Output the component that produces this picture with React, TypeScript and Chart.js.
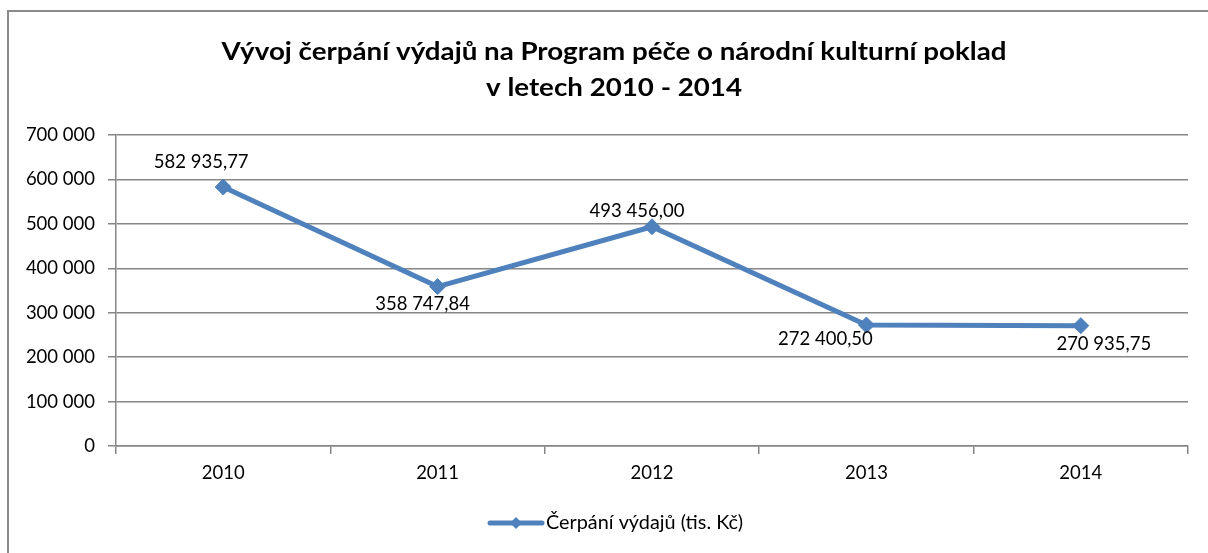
import React, { useEffect, useRef } from "react";
import { Chart, registerables } from "chart.js";

Chart.register(...registerables);

const title = ["Vývoj čerpání výdajů na Program péče o národní kulturní poklad", "v letech 2010 - 2014"];
const categories = ["2010", "2011", "2012", "2013", "2014"];
const seriesName = "Čerpání výdajů (tis. Kč)";
const values = [582935.77, 358747.84, 493456.0, 272400.5, 270935.75];
const valueLabels = ["582 935,77", "358 747,84", "493 456,00", "272 400,50", "270 935,75"];
const yTicks = [0, 100000, 200000, 300000, 400000, 500000, 600000, 700000];

const labelOffsets = [
  [-22, -25],
  [-15, 17],
  [-15, -16],
  [-41, 14],
  [23, 18],
];

const FONT = "Lato";
const FS = 18.5;
const LINE = "#4F81BD";
const GRID = "#868686";

function fmt(v: number) {
  return String(v).replace(/\B(?=(\d{3})+(?!\d))/g, " ");
}

function stretchedText(ctx: CanvasRenderingContext2D, text: string, cx: number, y: number, sx: number, align: "center" | "left") {
  ctx.save();
  ctx.translate(cx, y);
  ctx.scale(sx, 1);
  ctx.textAlign = align;
  ctx.fillText(text, 0, 0);
  ctx.restore();
}

const overlay = {
  id: "overlay",
  afterDraw(chart: any) {
    const ctx = chart.ctx as CanvasRenderingContext2D;
    ctx.save();
    // title
    ctx.fillStyle = "#000";
    ctx.font = `bold 25px ${FONT}`;
    ctx.textBaseline = "alphabetic";
    const w1 = ctx.measureText(title[0]).width;
    const sx = 785 / w1;
    stretchedText(ctx, title[0], 614, 60, sx, "center");
    stretchedText(ctx, title[1], 614, 96, sx, "center");

    // data labels
    const meta = chart.getDatasetMeta(0);
    ctx.font = `${FS}px ${FONT}`;
    ctx.textBaseline = "middle";
    ctx.textAlign = "center";
    meta.data.forEach((pt: any, i: number) => {
      const [dx, dy] = labelOffsets[i];
      ctx.fillText(valueLabels[i], pt.x + dx, pt.y + dy);
    });

    // legend
    const ly = 523;
    ctx.strokeStyle = LINE;
    ctx.lineWidth = 5;
    ctx.lineCap = "round";
    ctx.beginPath();
    ctx.moveTo(490, ly);
    ctx.lineTo(542, ly);
    ctx.stroke();
    ctx.fillStyle = LINE;
    ctx.beginPath();
    ctx.moveTo(516, ly - 6);
    ctx.lineTo(522, ly);
    ctx.lineTo(516, ly + 6);
    ctx.lineTo(510, ly);
    ctx.closePath();
    ctx.fill();
    ctx.fillStyle = "#000";
    ctx.font = `${FS}px ${FONT}`;
    const lw = ctx.measureText(seriesName).width;
    stretchedText(ctx, seriesName, 546, ly, 197 / lw, "left");
    ctx.restore();
  },
};

export default function App() {
  const ref = useRef<HTMLCanvasElement>(null);
  useEffect(() => {
    if (!ref.current) return;
    const chart = new Chart(ref.current, {
      type: "line",
      data: {
        labels: categories,
        datasets: [
          {
            label: seriesName,
            data: values,
            borderColor: LINE,
            backgroundColor: LINE,
            borderWidth: 5,
            pointStyle: "rectRot",
            pointRadius: 8,
            pointBorderWidth: 1,
            pointBackgroundColor: LINE,
            pointBorderColor: LINE,
            tension: 0,
          },
        ],
      },
      options: {
        animation: false,
        responsive: false,
        layout: { padding: { top: 135, bottom: 67, left: 0, right: 20 } },
        plugins: {
          legend: { display: false },
          title: { display: false },
          tooltip: { enabled: false },
        },
        scales: {
          x: {
            offset: true,
            grid: {
              offset: true,
              drawOnChartArea: false,
              drawTicks: true,
              tickLength: 8,
              color: GRID,
              lineWidth: 1.5,
            },
            border: { display: true, color: GRID, width: 1.5 },
            ticks: { color: "#000", font: { family: FONT, size: FS }, padding: 8 },
            afterFit: (s: any) => {
              s.height = 40;
            },
          },
          y: {
            min: 0,
            max: 700000,
            afterBuildTicks: (s: any) => {
              s.ticks = yTicks.map((v) => ({ value: v }));
            },
            grid: { color: GRID, lineWidth: 1.5, tickLength: 8, drawTicks: true },
            border: { display: true, color: GRID, width: 1.5 },
            ticks: {
              color: "#000",
              font: { family: FONT, size: FS },
              padding: 13,
              callback: (v: any) => fmt(Number(v)),
            },
            afterFit: (s: any) => {
              s.width = 116;
            },
          },
        },
      },
      plugins: [overlay],
    });
    return () => chart.destroy();
  }, []);

  return (
    <div style={{ position: "absolute", left: 0, top: 0, width: 1208, height: 553, background: "#fff", overflow: "hidden" }}>
      <div
        style={{
          position: "absolute",
          left: 7,
          top: 10,
          width: 1300,
          height: 700,
          borderLeft: "2px solid #8a8a8a",
          borderTop: "2px solid #8a8a8a",
        }}
      />
      <canvas ref={ref} width={1208} height={553} style={{ position: "absolute", left: 0, top: 0, width: 1208, height: 553 }} />
    </div>
  );
}
